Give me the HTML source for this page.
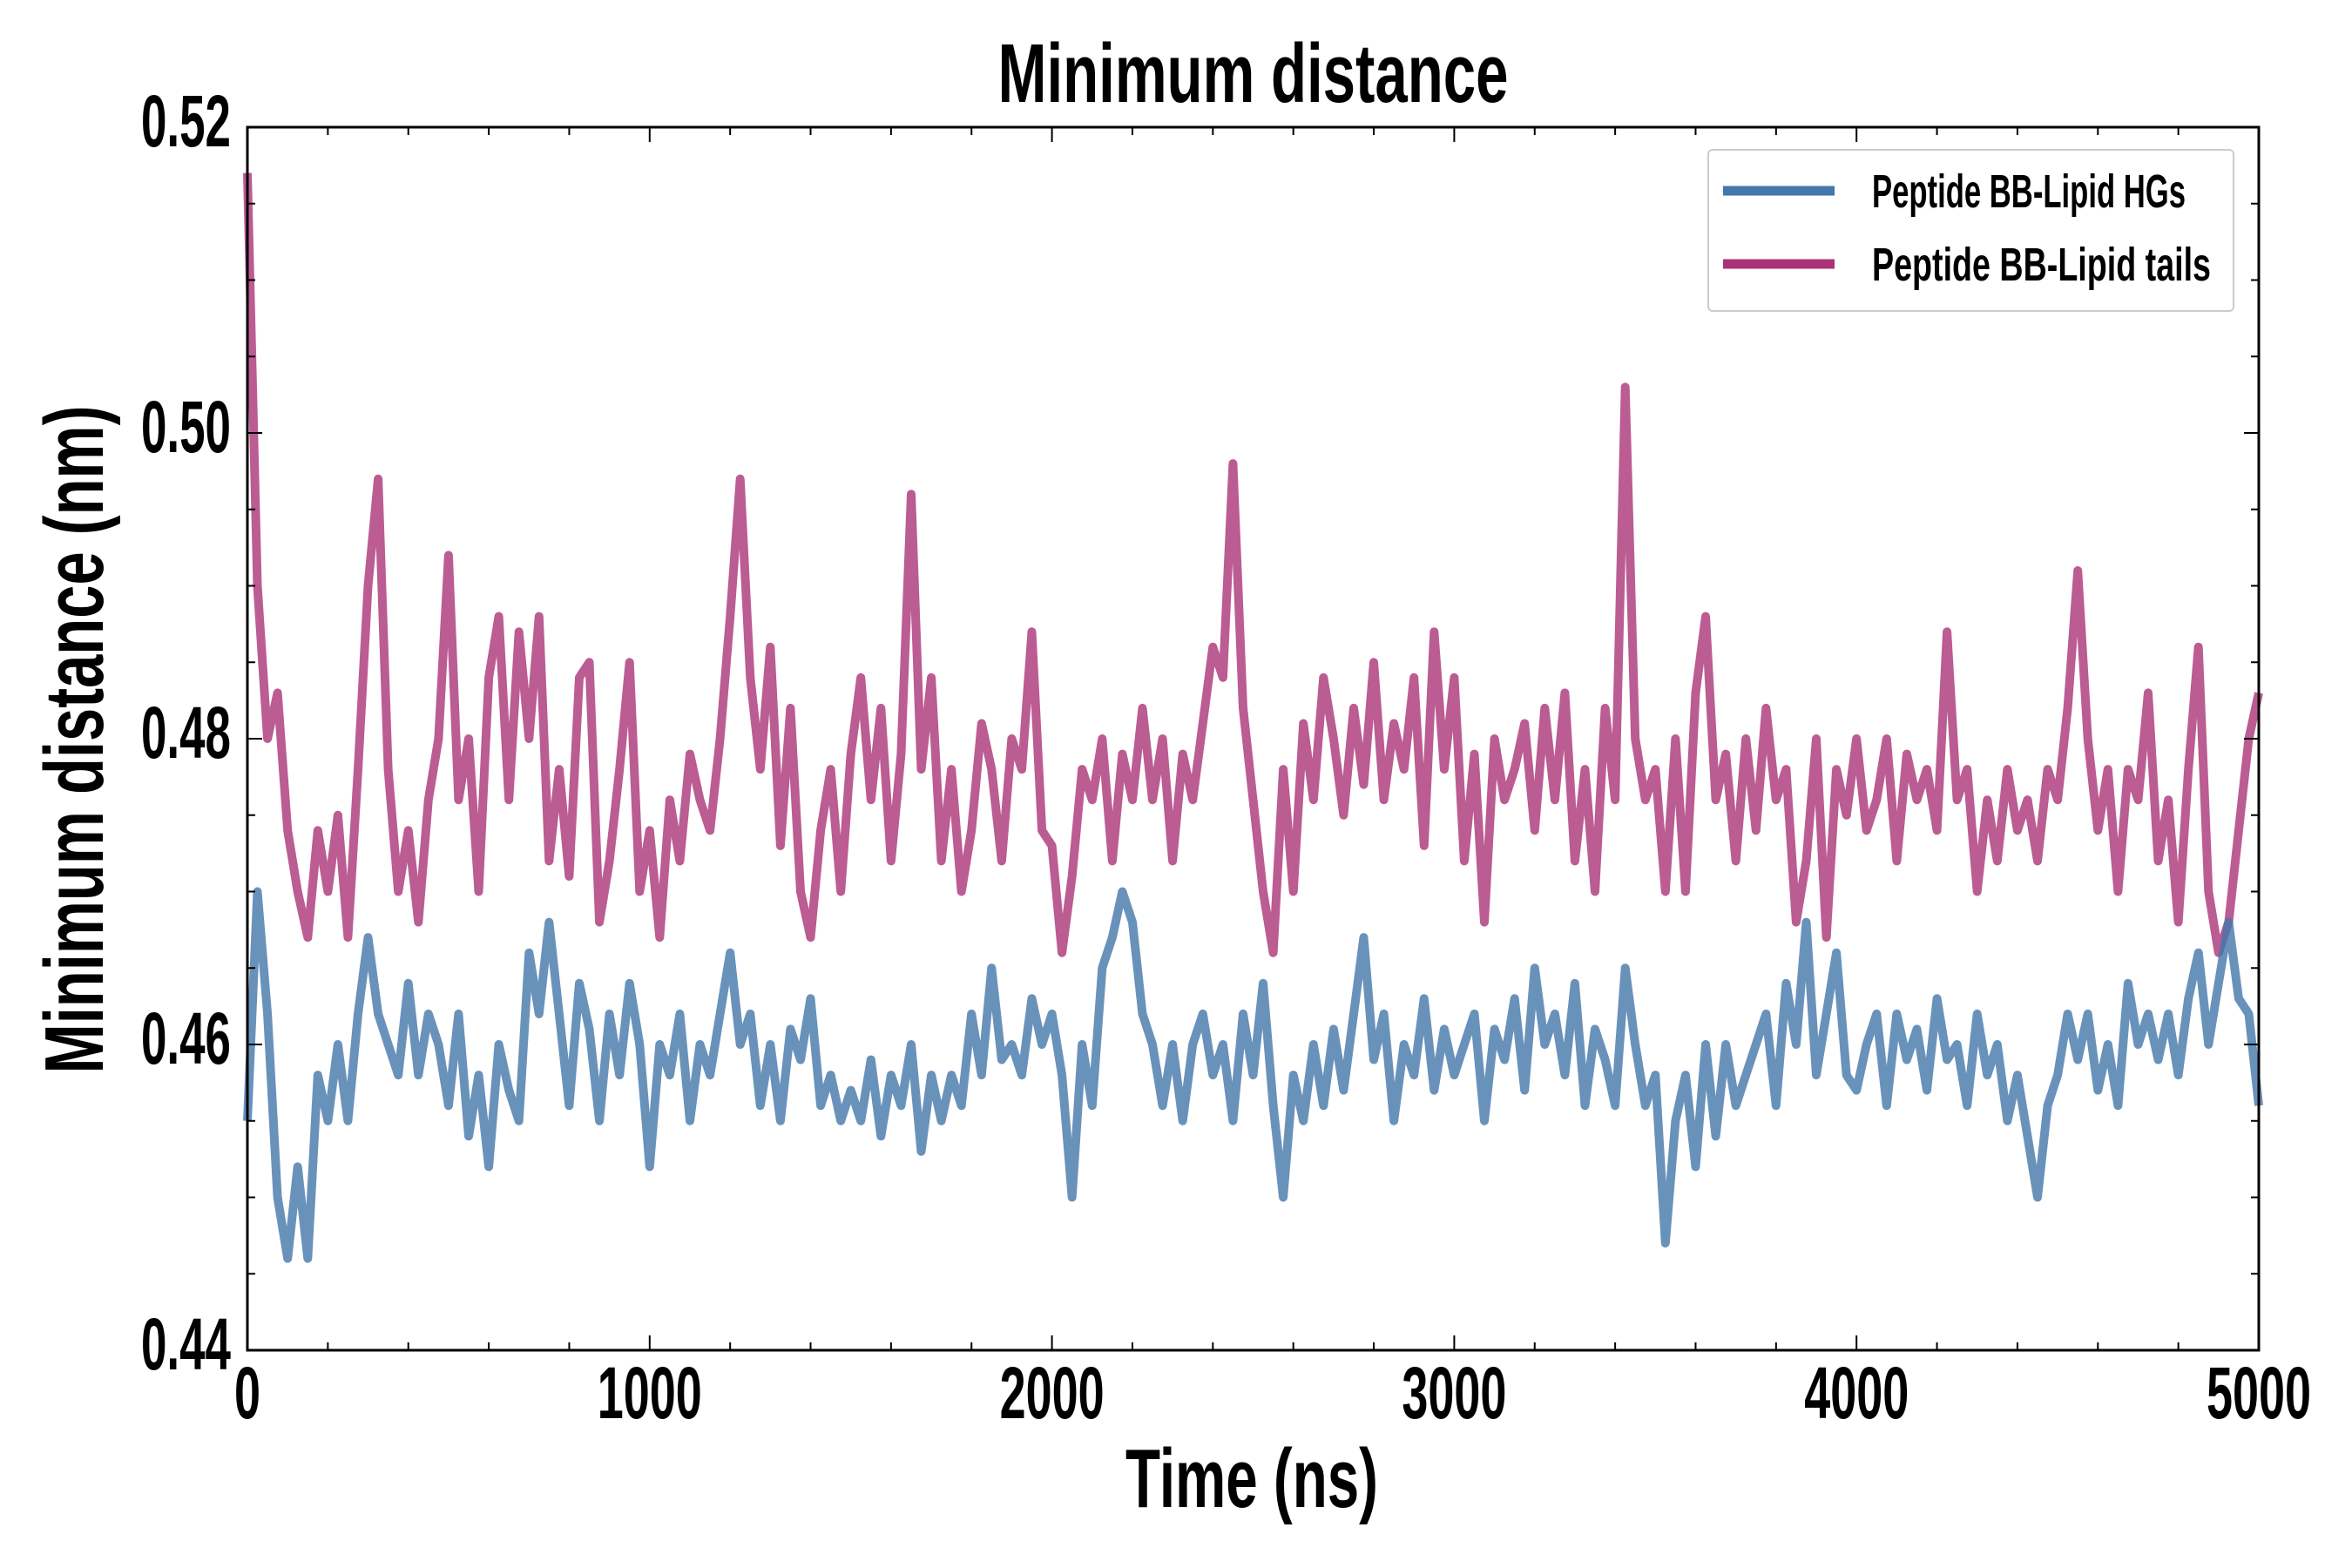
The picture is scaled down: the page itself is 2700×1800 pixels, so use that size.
<!DOCTYPE html>
<html><head><meta charset="utf-8">
<style>
html,body{margin:0;padding:0;background:#fff;}
svg{display:block;}
text{font-family:"Liberation Sans Narrow","Liberation Sans",sans-serif;font-weight:bold;fill:#000;}
</style></head>
<body>
<svg id="chart" width="2700" height="1800" viewBox="0 0 2700 1800" xmlns="http://www.w3.org/2000/svg">
</svg>
<script>
const xTickValues=[0,1000,2000,3000,4000,5000];
const yTickValues=[0.44,0.46,0.48,0.50,0.52];
const yTickLabels=["0.44","0.46","0.48","0.50","0.52"];
const timeStep=25;
const tailsValues=[
0.517,0.490,0.480,0.483,0.474,0.470,0.467,0.474,0.470,0.475,
0.467,0.478,0.490,0.497,0.478,0.470,0.474,0.468,0.476,0.480,
0.492,0.476,0.480,0.470,0.484,0.488,0.476,0.487,0.480,0.488,
0.472,0.478,0.471,0.484,0.485,0.468,0.472,0.478,0.485,0.470,
0.474,0.467,0.476,0.472,0.479,0.476,0.474,0.480,0.488,0.497,
0.484,0.478,0.486,0.473,0.482,0.470,0.467,0.474,0.478,0.470,
0.479,0.484,0.476,0.482,0.472,0.479,0.496,0.478,0.484,0.472,
0.478,0.470,0.474,0.481,0.478,0.472,0.480,0.478,0.487,0.474,
0.473,0.466,0.471,0.478,0.476,0.480,0.472,0.479,0.476,0.482,
0.476,0.480,0.472,0.479,0.476,0.481,0.486,0.484,0.498,0.482,
0.476,0.470,0.466,0.478,0.470,0.481,0.476,0.484,0.480,0.475,
0.482,0.477,0.485,0.476,0.481,0.478,0.484,0.473,0.487,0.478,
0.484,0.472,0.479,0.468,0.480,0.476,0.478,0.481,0.474,0.482,
0.476,0.483,0.472,0.478,0.470,0.482,0.476,0.503,0.480,0.476,
0.478,0.470,0.480,0.470,0.483,0.488,0.476,0.479,0.472,0.480,
0.474,0.482,0.476,0.478,0.468,0.472,0.480,0.467,0.478,0.475,
0.480,0.474,0.476,0.480,0.472,0.479,0.476,0.478,0.474,0.487,
0.476,0.478,0.470,0.476,0.472,0.478,0.474,0.476,0.472,0.478,
0.476,0.482,0.491,0.480,0.474,0.478,0.470,0.478,0.476,0.483,
0.472,0.476,0.468,0.478,0.486,0.470,0.466,0.468,0.474,0.480,
0.483];
const hgValues=[
0.455,0.470,0.462,0.450,0.446,0.452,0.446,0.458,0.455,0.460,
0.455,0.462,0.467,0.462,0.460,0.458,0.464,0.458,0.462,0.460,
0.456,0.462,0.454,0.458,0.452,0.460,0.457,0.455,0.466,0.462,
0.468,0.462,0.456,0.464,0.461,0.455,0.462,0.458,0.464,0.460,
0.452,0.460,0.458,0.462,0.455,0.460,0.458,0.462,0.466,0.460,
0.462,0.456,0.460,0.455,0.461,0.459,0.463,0.456,0.458,0.455,
0.457,0.455,0.459,0.454,0.458,0.456,0.460,0.453,0.458,0.455,
0.458,0.456,0.462,0.458,0.465,0.459,0.460,0.458,0.463,0.460,
0.462,0.458,0.450,0.460,0.456,0.465,0.467,0.470,0.468,0.462,
0.460,0.456,0.460,0.455,0.460,0.462,0.458,0.460,0.455,0.462,
0.458,0.464,0.456,0.450,0.458,0.455,0.460,0.456,0.461,0.457,
0.462,0.467,0.459,0.462,0.455,0.460,0.458,0.463,0.457,0.461,
0.458,0.460,0.462,0.455,0.461,0.459,0.463,0.457,0.465,0.460,
0.462,0.458,0.464,0.456,0.461,0.459,0.456,0.465,0.460,0.456,
0.458,0.447,0.455,0.458,0.452,0.460,0.454,0.460,0.456,0.458,
0.460,0.462,0.456,0.464,0.460,0.468,0.458,0.462,0.466,0.458,
0.457,0.460,0.462,0.456,0.462,0.459,0.461,0.457,0.463,0.459,
0.460,0.456,0.462,0.458,0.460,0.455,0.458,0.454,0.450,0.456,
0.458,0.462,0.459,0.462,0.457,0.460,0.456,0.464,0.460,0.462,
0.459,0.462,0.458,0.463,0.466,0.460,0.464,0.468,0.463,0.462,
0.456];

const NS="http://www.w3.org/2000/svg";
const svg=document.getElementById('chart');
const L=284,R=2593,T=146,B=1550;
const xMin=0,xMax=5000,yMin=0.44,yMax=0.52;
function xs(v){return L+(v-xMin)/(xMax-xMin)*(R-L);}
function ys(v){return B-(v-yMin)/(yMax-yMin)*(B-T);}
function mk(tag,attrs,parent){const e=document.createElementNS(NS,tag);for(const k in attrs)e.setAttribute(k,attrs[k]);(parent||svg).appendChild(e);return e;}

function series(vals,color,name){
  let d='';
  vals.forEach((v,i)=>{d+=(i?'L':'M')+xs(i*timeStep).toFixed(1)+','+ys(v).toFixed(1);});
  const p=mk('path',{d:d,fill:'none',stroke:color,'stroke-width':10,'stroke-opacity':0.8,'stroke-linejoin':'round'});
  
  
}
series(tailsValues,'#aa3377','series-lipid-tails');
series(hgValues,'#4477aa','series-lipid-hgs');

const fr=mk('rect',{x:L,y:T,width:R-L,height:B-T,fill:'none',stroke:'#000','stroke-width':3});



for(let v=0;v<=5000;v+=200){
  const x=xs(v);const major=v%1000===0;const len=major?17:9;
  const t1=mk('line',{x1:x,x2:x,y1:B,y2:B-len,stroke:'#000','stroke-width':2});
  
  
  const t2=mk('line',{x1:x,x2:x,y1:T,y2:T+len,stroke:'#000','stroke-width':2});
  
  
}
for(let i=0;i<=16;i++){
  const v=yMin+i*0.005;const y=ys(v);const major=i%4===0;const len=major?17:9;
  const t1=mk('line',{x1:L,x2:L+len,y1:y,y2:y,stroke:'#000','stroke-width':2});
  
  
  const t2=mk('line',{x1:R,x2:R-len,y1:y,y2:y,stroke:'#000','stroke-width':2});
  
  
}
function txt(s,x,y,size,anchor,len,extra){
  const a={x:x,y:y,'font-size':size,'text-anchor':anchor,textLength:len,lengthAdjust:'spacingAndGlyphs'};
  if(extra)for(const k in extra)a[k]=extra[k];
  const t=mk('text',a);t.textContent=s;return t;
}
xTickValues.forEach(v=>{
  const s=String(v);
  const t=txt(s,xs(v),B+78,84,'middle',s.length*30);
  
  
});
yTickValues.forEach((v,i)=>{
  const t=txt(yTickLabels[i],L-19,ys(v)+22,84,'end',103);
  
  
});
const title=txt('Minimum distance',(L+R)/2,117,96,'middle',586);


const xl=txt('Time (ns)',1437,1730,96,'middle',290);


const yl=txt('Minimum distance (nm)',0,0,96,'middle',767,{transform:'translate(118,849) rotate(-90)'});



const lg=mk('g',{});


mk('rect',{x:1961,y:172,width:603,height:185,rx:5,fill:'#fff',stroke:'#ccc','stroke-width':2},lg);
const entries=[['Peptide BB-Lipid HGs','#4477aa',219,360],['Peptide BB-Lipid tails','#aa3377',303,389]];
entries.forEach(e=>{
  const g=mk('g',{},lg);
  
  
  mk('line',{x1:1978,x2:2106,y1:e[2],y2:e[2],stroke:e[1],'stroke-width':11},g);
  const t=mk('text',{x:2149,y:e[2]+19,'font-size':54,textLength:e[3],lengthAdjust:'spacingAndGlyphs'},g);
  t.textContent=e[0];
});
</script>
</body></html>
